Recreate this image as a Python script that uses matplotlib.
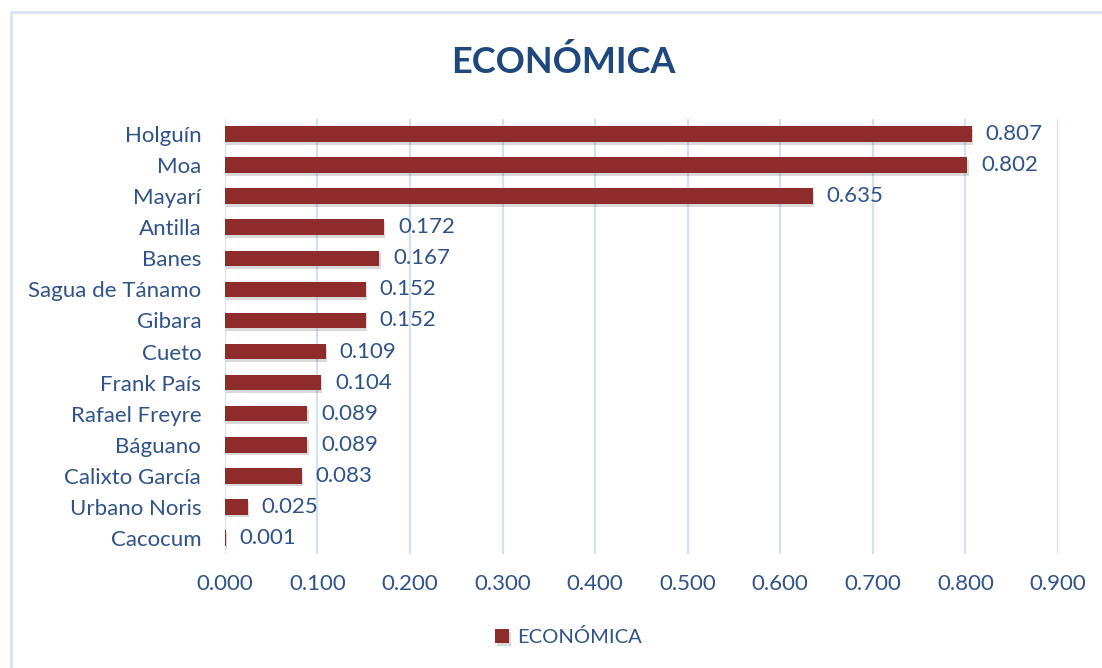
import matplotlib.pyplot as plt
import matplotlib.patheffects as pe
from matplotlib.patches import Rectangle

# municipios, ordered top to bottom as drawn
municipios = ['Holguín', 'Moa', 'Mayarí', 'Antilla', 'Banes', 'Sagua de Tánamo',
              'Gibara', 'Cueto', 'Frank País', 'Rafael Freyre', 'Báguano',
              'Calixto García', 'Urbano Noris', 'Cacocum']
economica = [0.807, 0.802, 0.635, 0.172, 0.167, 0.152, 0.152, 0.109,
             0.104, 0.089, 0.089, 0.083, 0.025, 0.001]
xticks = [0.0, 0.1, 0.2, 0.3, 0.4, 0.5, 0.6, 0.7, 0.8, 0.9]

TXT = '#2F5288'
BAR = '#8E2B2B'
GRID = '#D3E1F3'

plt.rcParams['font.family'] = ['Lato', 'DejaVu Sans']

fig = plt.figure(figsize=(11.02, 6.68), dpi=100)
# chart frame
fig.patches.append(Rectangle((11 / 1102, -0.1), 1.2, (668 - 12) / 668 + 0.1,
                             transform=fig.transFigure, fill=False,
                             edgecolor='#D6E3F4', linewidth=2))

ax = fig.add_axes([0.204, 0.1714, 0.756, 0.6512])
ypos = list(range(len(municipios)))
bars = ax.barh(ypos, economica, height=0.5, color=BAR, zorder=3,
               path_effects=[pe.SimplePatchShadow(offset=(1, -2), alpha=0.22,
                                                  shadow_rgbFace='#555555'),
                             pe.Normal()])

for y, v in zip(ypos, economica):
    ax.annotate(f'{v:.3f}', (v, y), xytext=(10, 0), textcoords='offset points',
                va='center', ha='left', fontsize=16, color=TXT)

ax.set_ylim(len(municipios) - 0.5, -0.5)
ax.set_xlim(0, 0.9)
ax.set_xticks(xticks)
ax.set_xticklabels([f'{t:.3f}' for t in xticks])
ax.set_yticks(ypos)
ax.set_yticklabels(municipios)
ax.tick_params(axis='both', length=0, labelsize=16, labelcolor=TXT)
ax.tick_params(axis='y', pad=17)
ax.tick_params(axis='x', pad=15)
ax.grid(axis='x', color=GRID, linewidth=1.6, zorder=0)
for s in ax.spines.values():
    s.set_visible(False)

fig.text(0.511, 0.907, 'ECONÓMICA', ha='center', va='center', fontsize=26,
         fontweight='bold', color='#1F497D')

leg = fig.legend([bars], ['ECONÓMICA'], loc='center', bbox_to_anchor=(0.516, 0.046),
                 frameon=False, fontsize=14.5, handlelength=0.7, handleheight=0.7,
                 handletextpad=0.4)
for t in leg.get_texts():
    t.set_color(TXT)

fig.savefig('out.png', dpi=100)
